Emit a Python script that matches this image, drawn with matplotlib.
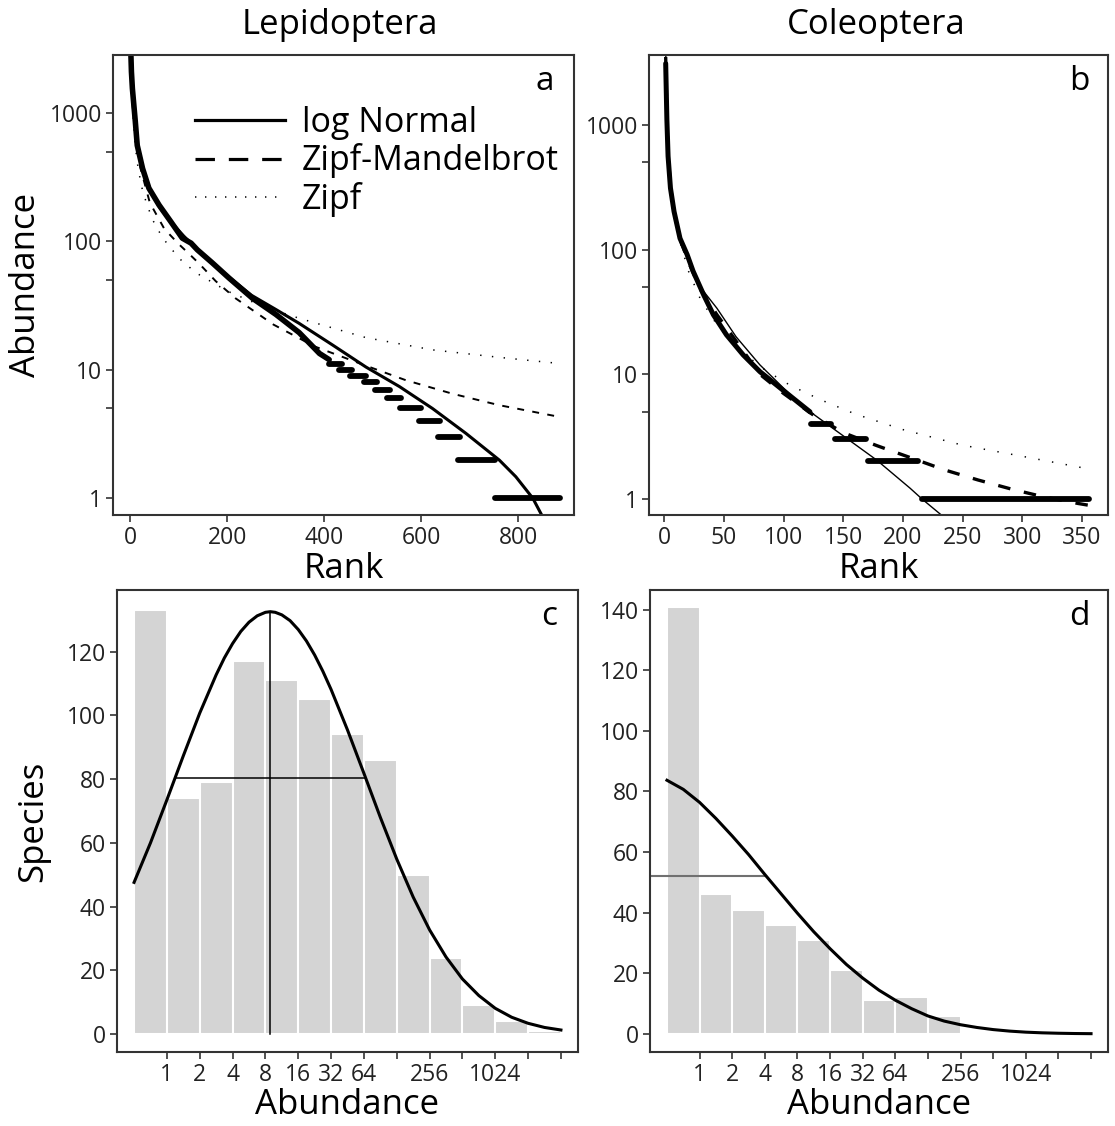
import numpy as np
import matplotlib
matplotlib.use('Agg')
from matplotlib import pyplot as plt
from matplotlib.lines import Line2D
from matplotlib.ticker import FixedLocator, NullFormatter

plt.rcParams['font.family'] = ['Open Sans', 'DejaVu Sans']
plt.rcParams['lines.scale_dashes'] = False

# ---- Lepidoptera rank / abundance (panel a) ----
lep_rank = [1, 2, 4, 10, 14, 25, 38, 59, 83, 107, 125, 138, 169, 203, 252, 300, 348, 390, 410]
lep_abund = [2800, 2100, 1550, 860, 560, 370, 260, 192, 143, 106, 97, 86, 68, 52, 36, 27, 19.5, 13.4, 12]
lep_step_abund = [11, 10, 9, 8, 7, 6, 5, 4, 3, 2, 1]
lep_step_first = [410, 431, 452, 481, 505, 530, 557, 596, 635, 676, 751]
lep_step_last = [437, 458, 486, 508, 536, 559, 600, 639, 680, 752, 887]

lep_ln_rank = [1, 3, 6, 10, 15, 25, 40, 60, 85, 110, 140, 170, 205, 250, 300, 348, 417, 486, 555, 623, 692, 761, 795, 830, 850]
lep_ln_abund = [4000, 1700, 1100, 800, 560, 370, 255, 185, 140, 110, 85, 67, 52, 38, 29.5, 23, 15.6, 10.5, 7.4, 5.0, 3.2, 1.98, 1.47, 1.0, 0.72]

lep_zm_rank = [1, 5, 10, 20, 40, 70, 100, 121, 142, 176, 217, 295, 380, 479, 568, 665, 761, 885]
lep_zm_abund = [3500, 1250, 720, 380, 200, 125, 95, 80, 67, 49, 36, 22.5, 15.2, 11.0, 8.3, 6.5, 5.3, 4.3]

lep_zipf_rank = [1, 2, 3, 6, 10, 16, 25, 32, 45, 66, 100, 135, 200, 275, 348, 486, 623, 761, 885]
lep_zipf_abund = [4060, 2230, 1570, 860, 552, 366, 248, 205, 149, 107, 74, 57, 41, 31, 25.2, 17.8, 14.3, 12.5, 11.2]

# ---- Coleoptera rank / abundance (panel b) ----
col_rank = [1, 2, 3, 5, 8, 13, 19, 24, 33, 41, 52, 66, 80, 94, 108, 122]
col_abund = [3100, 1100, 560, 311, 202, 123, 91, 67, 43, 30, 20.7, 14.3, 10.5, 8.2, 6.4, 5.0]
col_step_abund = [4, 3, 2, 1]
col_step_first = [123, 143, 171, 216]
col_step_last = [140, 169, 213, 356]

col_ln_rank = [1, 2, 3, 5, 8, 13, 20, 30, 44, 60, 80, 114, 145, 178, 206, 216, 234]
col_ln_abund = [4000, 1300, 700, 350, 210, 125, 80, 50, 33.8, 20, 11.9, 5.7, 3.47, 2.05, 1.22, 1.0, 0.72]

col_zm_rank = [1, 2, 3, 5, 8, 13, 20, 30, 44, 60, 80, 100, 125, 150, 178, 206, 235, 263, 291, 318, 347, 356]
col_zm_abund = [3500, 1200, 600, 320, 200, 122, 80, 48, 30, 18.5, 10, 7, 4.7, 3.4, 2.68, 2.15, 1.71, 1.42, 1.2, 1.04, 0.92, 0.89]

col_zipf_rank = [1, 2, 3, 5, 8, 13, 20, 30, 45, 65, 85, 105, 130, 160, 200, 250, 300, 356]
col_zipf_abund = [3030, 1257, 751, 392, 216, 117, 67.5, 40.3, 24.1, 15.1, 10.7, 8.2, 6.3, 4.8, 3.6, 2.7, 2.2, 1.74]

# ---- Preston octaves (panels c, d) ----
octave_labels = ['1', '2', '4', '8', '16', '32', '64', '', '256', '', '1024', '', '']
lep_octave_species = [133, 74, 79, 117, 111, 105, 94, 86, 50, 24, 9, 4, 1]
col_octave_species = [141, 46, 41, 36, 31, 21, 11, 12, 6, 0, 0, 0, 0]

lep_curve_x = [-1, -0.5, 0, 0.5, 1, 1.5, 1.75, 2, 2.25, 2.5, 2.75, 3, 3.15, 3.3, 3.5, 3.75, 4, 4.25, 4.5,
               4.75, 5, 5.5, 6, 6.5, 7, 7.5, 8, 8.5, 9, 9.5, 10, 10.5, 11, 11.5, 12]
lep_curve_y = [47.6, 60.0, 73.5, 87.3, 100.7, 112.7, 118.0, 122.5, 126.3, 129.2, 131.2, 132.3, 132.5, 132.3,
               131.5, 129.7, 126.9, 123.3, 118.9, 113.8, 108.1, 95.4, 81.8, 68.0, 54.9, 43.0, 32.7, 24.2,
               17.3, 12.1, 8.1, 5.3, 3.4, 2.1, 1.3]
lep_mode, lep_peak = 3.15, 132.5
lep_sd_lo, lep_sd_hi, lep_sd_level = 0.29, 6.02, 80.4

col_curve_x = [-1, -0.5, 0, 0.5, 1, 1.5, 2, 2.5, 3, 3.5, 4, 4.5, 5, 5.5, 6, 6.5, 7, 7.5, 8, 8.5,
               9, 9.5, 10, 10.5, 11, 11.5, 12]
col_curve_y = [83.7, 80.7, 76.4, 71.1, 65.3, 59.2, 52.6, 46.2, 39.8, 33.7, 28.1, 22.9, 18.4, 14.4, 11.1,
               8.3, 5.9, 4.2, 3.0, 2.1, 1.4, 0.9, 0.55, 0.33, 0.19, 0.1, 0.05]
col_sd_hi, col_sd_level = 2.0, 52.2

W, H = 1115, 1126
fig = plt.figure(figsize=(W / 100, H / 100), dpi=100)


def px_axes(left, top, right, bottom):
    return fig.add_axes([left / W, 1 - bottom / H, (right - left) / W, (bottom - top) / H])


ax_a = px_axes(113, 55, 574, 515)
ax_b = px_axes(649, 55, 1108, 515)
ax_c = px_axes(117, 590, 578, 1052)
ax_d = px_axes(650, 590, 1108, 1052)

frame_col = '#333333'
for ax in (ax_a, ax_b, ax_c, ax_d):
    for s in ax.spines.values():
        s.set_color(frame_col)
        s.set_linewidth(1.5)
    ax.tick_params(which='both', direction='out', length=5, width=1.2, color=frame_col,
                   labelsize=16.5, pad=3, labelcolor='#222222')

# ---- panel a ----
ax = ax_a
ax.set_yscale('log')
ax.plot(lep_zipf_rank, lep_zipf_abund, color='k', lw=1.1, dashes=(1, 7.5))
ax.plot(lep_zm_rank, lep_zm_abund, color='k', lw=1.4, dashes=(5, 6))
ax.plot(lep_rank, lep_abund, color='k', lw=4, solid_capstyle='round')
for v, r0, r1 in zip(lep_step_abund, lep_step_first, lep_step_last):
    ax.plot([r0, r1], [v, v], color='k', lw=4.2, solid_capstyle='round')
ax.plot(lep_ln_rank, lep_ln_abund, color='k', lw=2.2)
ax.set_xlim(-36, 915)
ax.set_ylim(0.74, 2830)
ax.set_xticks([0, 200, 400, 600, 800])

# ---- panel b ----
ax = ax_b
ax.set_yscale('log')
ax.plot(col_zipf_rank, col_zipf_abund, color='k', lw=1.1, dashes=(1, 9))
ax.plot(col_zm_rank, col_zm_abund, color='k', lw=2.4, dashes=(9, 10))
ax.plot(col_rank, col_abund, color='k', lw=3.6, solid_capstyle='round')
for v, r0, r1 in zip(col_step_abund, col_step_first, col_step_last):
    ax.plot([r0, r1], [v, v], color='k', lw=4.2, solid_capstyle='round')
ax.plot(col_ln_rank, col_ln_abund, color='k', lw=1.0)
ax.set_xlim(-13, 372)
ax.set_ylim(0.744, 3630)
ax.set_xticks([0, 50, 100, 150, 200, 250, 300, 350])

for ax in (ax_a, ax_b):
    ax.yaxis.set_major_locator(FixedLocator([1, 10, 100, 1000]))
    ax.yaxis.set_minor_locator(FixedLocator([5, 50, 500]))
    ax.yaxis.set_minor_formatter(NullFormatter())
    ax.set_yticklabels(['1', '10', '100', '1000'])
    ax.set_xlabel('Rank', fontsize=25, labelpad=1)

ax_a.set_ylabel('Abundance', fontsize=25, labelpad=5)

legend_handles = [Line2D([], [], color='k', lw=2.3),
                  Line2D([], [], color='k', lw=2.3, dashes=(14, 10)),
                  Line2D([], [], color='k', lw=1.1, dashes=(1, 6.2))]
ax_a.legend(legend_handles, ['log Normal', 'Zipf-Mandelbrot', 'Zipf'], loc='upper left',
            bbox_to_anchor=(0.178, 0.889), frameon=False, fontsize=24.5, handlelength=2.65,
            handletextpad=0.5, labelspacing=0.1, borderpad=0, borderaxespad=0)

# ---- panels c, d ----
octaves = np.arange(len(octave_labels))
for ax, species in ((ax_c, lep_octave_species), (ax_d, col_octave_species)):
    ax.bar(octaves - 0.5, species, width=1, color='#d4d4d4', edgecolor='white', linewidth=1.5)
    ax.set_xlim(-1.52, 12.52)
    ax.set_xticks(octaves)
    ax.set_xticklabels(octave_labels)
    ax.set_xlabel('Abundance', fontsize=25, labelpad=1)

ax = ax_c
ax.plot(lep_curve_x, lep_curve_y, color='k', lw=2.2)
ax.plot([lep_mode, lep_mode], [0, lep_peak], color='k', lw=1.1)
ax.plot([lep_sd_lo, lep_sd_hi], [lep_sd_level, lep_sd_level], color='k', lw=1.1)
ax.set_ylim(-5.6, 139.3)
ax.set_yticks([0, 20, 40, 60, 80, 100, 120])
ax.set_ylabel('Species', fontsize=25, labelpad=12)

ax = ax_d
ax.plot([-1.52, col_sd_hi], [col_sd_level, col_sd_level], color='#707070', lw=1.5)
ax.plot(col_curve_x, col_curve_y, color='k', lw=2.2)
ax.set_ylim(-6, 146.5)
ax.set_yticks([0, 20, 40, 60, 80, 100, 120, 140])

for ax, letter in ((ax_a, 'a'), (ax_b, 'b'), (ax_c, 'c'), (ax_d, 'd')):
    ax.text(0.937, 0.942, letter, transform=ax.transAxes, ha='center', va='center', fontsize=24)

fig.text(340 / W, 1 - 25 / H, 'Lepidoptera', ha='center', va='center', fontsize=25)
fig.text(876 / W, 1 - 25 / H, 'Coleoptera', ha='center', va='center', fontsize=25)

fig.savefig('out.png', dpi=100, facecolor='white')
